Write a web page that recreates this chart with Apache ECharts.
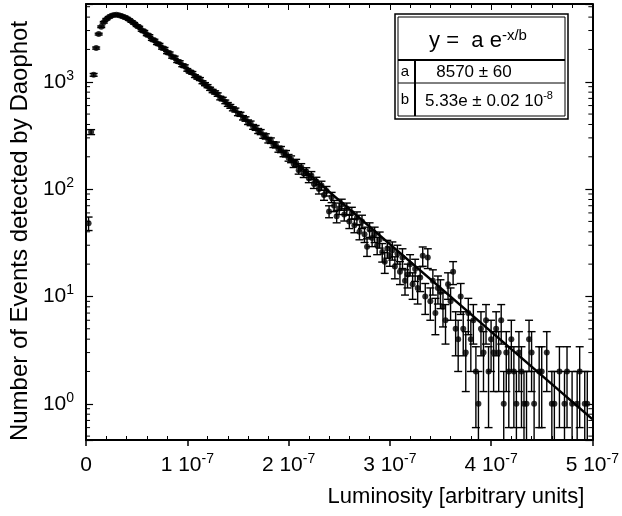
<!DOCTYPE html>
<html><head><meta charset="utf-8">
<script src="https://cdn.jsdelivr.net/npm/echarts@6/dist/echarts.min.js"></script>
<style>html,body{margin:0;padding:0;background:#fff}#c{width:622px;height:516px}</style>
</head><body><div id="c"></div>
<script>
// Luminosity bin centres, in units of 1e-9 (arbitrary units)
const lum = [
2.5,5,7.5,10,12.5,15,17.5,20,22.5,25,
27.5,30,32.5,35,37.5,40,42.5,45,47.5,50,
52.5,55,57.5,60,62.5,65,67.5,70,72.5,75,
77.5,80,82.5,85,87.5,90,92.5,95,97.5,100,
102.5,105,107.5,110,112.5,115,117.5,120,122.5,125,
127.5,130,132.5,135,137.5,140,142.5,145,147.5,150,
152.5,155,157.5,160,162.5,165,167.5,170,172.5,175,
177.5,180,182.5,185,187.5,190,192.5,195,197.5,200,
202.5,205,207.5,210,212.5,215,217.5,220,222.5,225,
227.5,230,232.5,235,237.5,240,242.5,245,247.5,250,
252.5,255,257.5,260,262.5,265,267.5,270,272.5,275,
277.5,280,282.5,285,287.5,290,292.5,295,297.5,300,
302.5,305,307.5,310,312.5,315,317.5,320,322.5,325,
327.5,330,332.5,335,337.5,340,342.5,345,347.5,350,
352.5,355,357.5,360,362.5,365,367.5,370,372.5,375,
377.5,380,382.5,385,387.5,390,392.5,395,397.5,400,
402.5,405,407.5,410,412.5,415,417.5,420,422.5,425,
427.5,430,432.5,435,437.5,440,442.5,447.5,450,455,
460,462.5,467.5,472.5,475,480,485,487.5,492.5,495
];
// Number of events detected by Daophot in each bin
const counts = [
48,340,1160,2060,2780,3250,3580,3820,3990,4120,
4180,4210,4170,4100,4010,3920,3790,3640,3500,3330,
3230,3010,2950,2740,2690,2480,2440,2270,2230,2060,
2040,1870,1850,1700,1690,1550,1530,1420,1400,1290,
1240,1210,1130,1090,1060,990,950,910,860,820,
795,760,705,690,650,615,590,560,545,505,
498,462,450,420,410,380,372,348,340,315,
310,286,283,260,258,236,234,215,214,196,
190,172,176,150,160,140,146,126,134,112,
118,100,108,88,96,62,84,70,56,66,
72,58,66,50,60,46,54,40,50,38,
29,42,35,38,30,34,26,21,28,24,
27,19,25,17,23,14,16,20,13,18,
12,15,24,10,23,9,14,7,12,11,
8,6,13,9,17,5,4,10,5,3,
7,4,6,2,1,5,3,6,2,4,
3,5,3,6,1,3,2,4,2,1,
3,2,1,1,4,3,1,2,2,3,
1,1,2,1,2,1,1,2,1,1
];
// Error bar half-heights
const errs = [
6.9,18,34,45,53,57,60,62,63,64,
65,65,65,64,63,63,62,60,59,58,
57,55,54,52,52,50,49,48,47,45,
45,43,43,41,41,39,39,38,37,36,
35,35,34,33,33,31,31,30,29,29,
28,28,27,26,25,25,24,24,23,22,
22,21.5,21.2,20.5,20.2,19.5,19.3,18.7,18.4,17.7,
17.6,16.9,16.8,16.1,16.1,15.4,15.3,14.7,14.6,14,
13.8,13.1,13.3,12.2,12.6,11.8,12.1,11.2,11.6,10.6,
10.9,10,10.4,9.4,9.8,7.9,9.2,8.4,7.5,8.1,
8.5,7.6,8.1,7.1,7.7,6.8,7.3,6.3,7.1,6.2,
5.4,6.5,5.9,6.2,5.5,5.8,5.1,4.6,5.3,4.9,
5.2,4.4,5,4.1,4.8,3.7,4,4.5,3.6,4.2,
3.5,3.9,4.9,3.2,4.8,3,3.7,2.6,3.5,3.3,
2.8,2.4,3.6,3,4.1,2.2,2,3.2,2.2,1.7,
2.6,2,2.4,1.4,1,2.2,1.7,2.4,1.4,2,
1.7,2.2,1.7,2.4,1,1.7,1.4,2,1.4,1,
1.7,1.4,1,1,2,1.7,1,1.4,1.4,1.7,
1,1,1.4,1,1.4,1,1,1.4,1,1
];
// Fitted curve y = a e^(-x/b): end points (straight on the log axis)
const fitLum = [45, 500];
const fitCounts = [3680, 0.72];
// Tick labels
const xTickValues = [0, 100, 200, 300, 400, 500];
const xTickLabels = ['0', '1 10^-7', '2 10^-7', '3 10^-7', '4 10^-7', '5 10^-7'];
const yTickValues = [1, 10, 100, 1000];
const yTickLabels = ['10^0', '10^1', '10^2', '10^3'];
const yMinorTicks = [0.5,0.6,0.7,0.8,0.9, 2,3,4,5,6,7,8,9, 20,30,40,50,60,70,80,90,
  200,300,400,500,600,700,800,900, 2000,3000,4000,5000];

const FONT = 'Liberation Sans, Arial, Helvetica, sans-serif';
function supLabel(txt) {
  const p = txt.split('^');
  return p.length > 1 ? '{n|' + p[0] + '}{s|' + p[1] + '}' : '{n|' + p[0] + '}';
}
const tickRich = {
  n: { fontSize: 21, fontFamily: FONT, color: '#000', lineHeight: 26 },
  s: { fontSize: 14, fontFamily: FONT, color: '#000', lineHeight: 14, verticalAlign: 'top' }
};
const axisLineStyle = { color: '#000', width: 2 };

const chart = echarts.init(document.getElementById('c'), null, { renderer: 'canvas' });
const pts = lum.map((x, i) => [x, counts[i]]);
const bars = lum.map((x, i) => [x, counts[i] - errs[i], counts[i] + errs[i]]);

chart.setOption({
  animation: false,
  backgroundColor: '#fff',
  grid: { left: 85, right: 26, top: 4, bottom: 76, containLabel: false },
  xAxis: [
    {
      type: 'value', position: 'bottom', min: 0, max: 500, interval: 100,
      axisLine: { show: true, onZero: false, lineStyle: axisLineStyle },
      axisTick: { show: true, inside: false, length: 6, lineStyle: { color: '#000', width: 1.5 } },
      minorTick: { show: false },
      splitLine: { show: false },
      axisLabel: {
        margin: 12, color: '#000', rich: tickRich,
        formatter: v => { const i = xTickValues.indexOf(v); return i < 0 ? '' : supLabel(xTickLabels[i]); }
      },
      name: 'Luminosity [arbitrary units]', nameLocation: 'end', nameGap: -8,
      nameTextStyle: { fontSize: 22, fontFamily: FONT, color: '#000', align: 'right', verticalAlign: 'top', padding: [46, 0, 0, 0] }
    },
    {
      type: 'value', position: 'bottom', min: 0, max: 500, interval: 100,
      axisLine: { show: false },
      axisTick: { show: false, inside: true },
      minorTick: { show: true, splitNumber: 5, length: 4, lineStyle: { color: '#000', width: 1 } },
      axisLabel: { show: false }, splitLine: { show: false }
    },
    {
      type: 'value', position: 'top', min: 0, max: 500, interval: 100,
      axisLine: { show: true, onZero: false, lineStyle: axisLineStyle },
      axisTick: { show: true, inside: true, length: 6, lineStyle: { color: '#000', width: 1 } },
      minorTick: { show: true, splitNumber: 5, length: 4, lineStyle: { color: '#000', width: 1 } },
      axisLabel: { show: false }, splitLine: { show: false }
    }
  ],
  yAxis: [
    {
      type: 'log', logBase: 10, position: 'left', min: 0.46, max: 5300,
      axisLine: { show: true, onZero: false, lineStyle: axisLineStyle },
      axisTick: { show: true, inside: true, length: 7, lineStyle: { color: '#000', width: 1.2 } },
      splitLine: { show: false },
      axisLabel: {
        margin: 12, color: '#000', rich: tickRich,
        formatter: v => {
          const i = yTickValues.findIndex(t => Math.abs(t - v) / t < 1e-6);
          return i < 0 ? '' : supLabel(yTickLabels[i]);
        }
      },
      name: 'Number of Events detected by Daophot', nameLocation: 'middle', nameGap: 53,
      nameTextStyle: { fontSize: 24, fontFamily: FONT, color: '#000', padding: [0, 18, 0, 0] }
    },
    {
      type: 'log', logBase: 10, position: 'right', min: 0.46, max: 5300,
      axisLine: { show: true, onZero: false, lineStyle: axisLineStyle },
      axisTick: { show: true, inside: true, length: 7, lineStyle: { color: '#000', width: 1.2 } },
      splitLine: { show: false }, axisLabel: { show: false }
    }
  ],
  series: [
    {
      type: 'custom', name: 'minorLogTicks', xAxisIndex: 0, yAxisIndex: 0, silent: true, clip: false,
      data: yMinorTicks.map(v => [0, v]),
      encode: { x: 0, y: 1 },
      renderItem: (params, api) => {
        const cs = params.coordSys;
        const y = api.coord([0, api.value(1)])[1];
        const st = { stroke: '#000', lineWidth: 1 };
        return { type: 'group', children: [
          { type: 'line', shape: { x1: cs.x, y1: y, x2: cs.x + 4, y2: y }, style: st },
          { type: 'line', shape: { x1: cs.x + cs.width - 4, y1: y, x2: cs.x + cs.width, y2: y }, style: st }
        ] };
      }
    },
    {
      type: 'custom', name: 'errors', xAxisIndex: 0, yAxisIndex: 0, silent: true, clip: true, z: 3,
      data: bars,
      encode: { x: 0, y: [1, 2] },
      renderItem: (params, api) => {
        const x = api.value(0);
        const lo = Math.max(api.value(1), 0.01);
        const hi = api.value(2);
        const a = api.coord([x, hi]);
        const b = api.coord([x, lo]);
        const w = 4;
        const st = { stroke: '#000', lineWidth: 1.4 };
        return { type: 'group', children: [
          { type: 'line', shape: { x1: a[0], y1: a[1], x2: b[0], y2: b[1] }, style: st },
          { type: 'line', shape: { x1: a[0] - w, y1: a[1], x2: a[0] + w, y2: a[1] }, style: st },
          { type: 'line', shape: { x1: b[0] - w, y1: b[1], x2: b[0] + w, y2: b[1] }, style: st }
        ] };
      }
    },
    {
      type: 'scatter', name: 'data', xAxisIndex: 0, yAxisIndex: 0, silent: true, z: 4,
      symbol: 'circle', symbolSize: 6, itemStyle: { color: '#000' },
      data: pts
    },
    {
      type: 'line', name: 'fit', xAxisIndex: 0, yAxisIndex: 0, silent: true, z: 5,
      showSymbol: false, symbol: 'none',
      lineStyle: { color: '#000', width: 2.5 },
      data: fitLum.map((x, i) => [x, fitCounts[i]])
    }
  ],
  graphic: [
    { type: 'rect', z: 100, shape: { x: 395, y: 14, width: 173, height: 105 }, style: { fill: '#fff', stroke: '#000', lineWidth: 1.5 } },
    { type: 'rect', z: 101, shape: { x: 398, y: 17, width: 167, height: 99 }, style: { fill: 'none', stroke: '#000', lineWidth: 1 } },
    { type: 'line', z: 101, shape: { x1: 398, y1: 60, x2: 565, y2: 60 }, style: { stroke: '#000', lineWidth: 2 } },
    { type: 'line', z: 101, shape: { x1: 398, y1: 83, x2: 565, y2: 83 }, style: { stroke: '#000', lineWidth: 1 } },
    { type: 'line', z: 101, shape: { x1: 415, y1: 60, x2: 415, y2: 116 }, style: { stroke: '#000', lineWidth: 2 } },
    { type: 'text', z: 102, x: 478, y: 41, style: {
        text: '{n|y =  a e}{s|-x/b}', align: 'center', verticalAlign: 'middle',
        rich: { n: { fontSize: 22, fontFamily: FONT, fill: '#000', lineHeight: 26 },
                s: { fontSize: 15, fontFamily: FONT, fill: '#000', lineHeight: 15, verticalAlign: 'top' } } } },
    { type: 'text', z: 102, x: 405, y: 72, style: { text: 'a', fontSize: 15, fontFamily: FONT, fill: '#000', align: 'center', verticalAlign: 'middle' } },
    { type: 'text', z: 102, x: 405, y: 100, style: { text: 'b', fontSize: 15, fontFamily: FONT, fill: '#000', align: 'center', verticalAlign: 'middle' } },
    { type: 'text', z: 102, x: 474, y: 72, style: { text: '8570 ± 60', fontSize: 17, fontFamily: FONT, fill: '#000', align: 'center', verticalAlign: 'middle' } },
    { type: 'text', z: 102, x: 489, y: 101, style: {
        text: '{n|5.33e ± 0.02 10}{s|-8}', align: 'center', verticalAlign: 'middle',
        rich: { n: { fontSize: 17, fontFamily: FONT, fill: '#000', lineHeight: 22 },
                s: { fontSize: 11, fontFamily: FONT, fill: '#000', lineHeight: 11, verticalAlign: 'top' } } } }
  ]
});
</script>
</body></html>
